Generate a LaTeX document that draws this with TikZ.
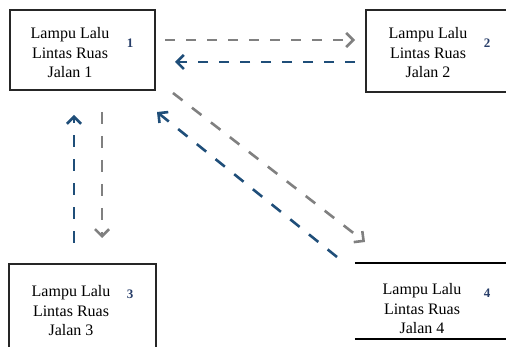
\documentclass[tikz,border=0pt]{standalone}
\usepackage{fontspec}
\setmainfont{Liberation Serif}
\usetikzlibrary{arrows.meta}
\definecolor{alurabu}{RGB}{128,128,128}
\definecolor{alurbiru}{RGB}{31,78,121}
\definecolor{nomorbiru}{RGB}{40,62,105}

\begin{document}
\begin{tikzpicture}[x=1pt, y=-1pt, >={Straight Barb[length=7pt,width=14pt]},
    lampu/.style={draw=black!85, line width=1.6pt, minimum width=145pt, minimum height=80pt, inner sep=0pt},
    teks/.style={align=center, font=\fontsize{16}{19.5}\selectfont},
    nomor/.style={text=nomorbiru, font=\fontsize{13}{13}\selectfont\bfseries},
    alur/.style={->, line width=2.6pt, dash pattern=on 10pt off 11pt}]
    \useasboundingbox (0,0) rectangle (506,347);

    % Kotak lampu
    \node[lampu] (b1) at (82.5,50) {};
    \node[lampu, minimum width=144pt, minimum height=82pt] (b2) at (438,51) {};
    \node[lampu, minimum width=147pt, minimum height=86pt] (b3) at (82.5,307) {};
    \node[minimum width=155pt, minimum height=76pt, inner sep=0pt] (b4) at (432.5,301) {};
    \draw[line width=2.4pt] (b4.north west) -- (b4.north east);
    \draw[line width=2.4pt] (b4.south west) -- (b4.south east);

    % Teks
    \node[teks] (t1) at (70,53) {Lampu Lalu\\Lintas Ruas\\Jalan 1};
    \node[teks] (t2) at (428,53) {Lampu Lalu\\Lintas Ruas\\Jalan 2};
    \node[teks] (t3) at (71,311) {Lampu Lalu\\Lintas Ruas\\Jalan 3};
    \node[teks] (t4) at (422,309) {Lampu Lalu\\Lintas Ruas\\Jalan 4};

    % Nomor kecil
    \node[nomor] (n1) at (130,43) {1};
    \node[nomor] (n2) at (487,43) {2};
    \node[nomor] (n3) at (130,294) {3};
    \node[nomor] (n4) at (487,293) {4};

    % Titik ujung alur
    \coordinate (a12) at (165,40);
    \coordinate (a21) at (355,40);
    \coordinate (k21) at (355,62);
    \coordinate (k12) at (175,62);
    \coordinate (a14) at (173,93);
    \coordinate (a41) at (365,242);
    \coordinate (k41) at (337,257);
    \coordinate (k14) at (157,112);
    \coordinate (k31) at (74,243);
    \coordinate (k13) at (74,115);
    \coordinate (a13) at (102,112);
    \coordinate (a31) at (102,238);

    % Alur
    \draw[alur, alurabu] (a12) -- (a21);
    \draw[alur, alurbiru] (k21) -- (k12);
    \draw[alur, alurabu, dash pattern=on 12pt off 12pt] (a14) -- (a41);
    \draw[alur, alurbiru, dash pattern=on 12pt off 12pt] (k41) -- (k14);
    \draw[alur, alurbiru, dash pattern=on 12pt off 12pt] (k31) -- (k13);
    \draw[alur, alurabu, dash pattern=on 12pt off 12pt] (a13) -- (a31);
\end{tikzpicture}
\end{document}
